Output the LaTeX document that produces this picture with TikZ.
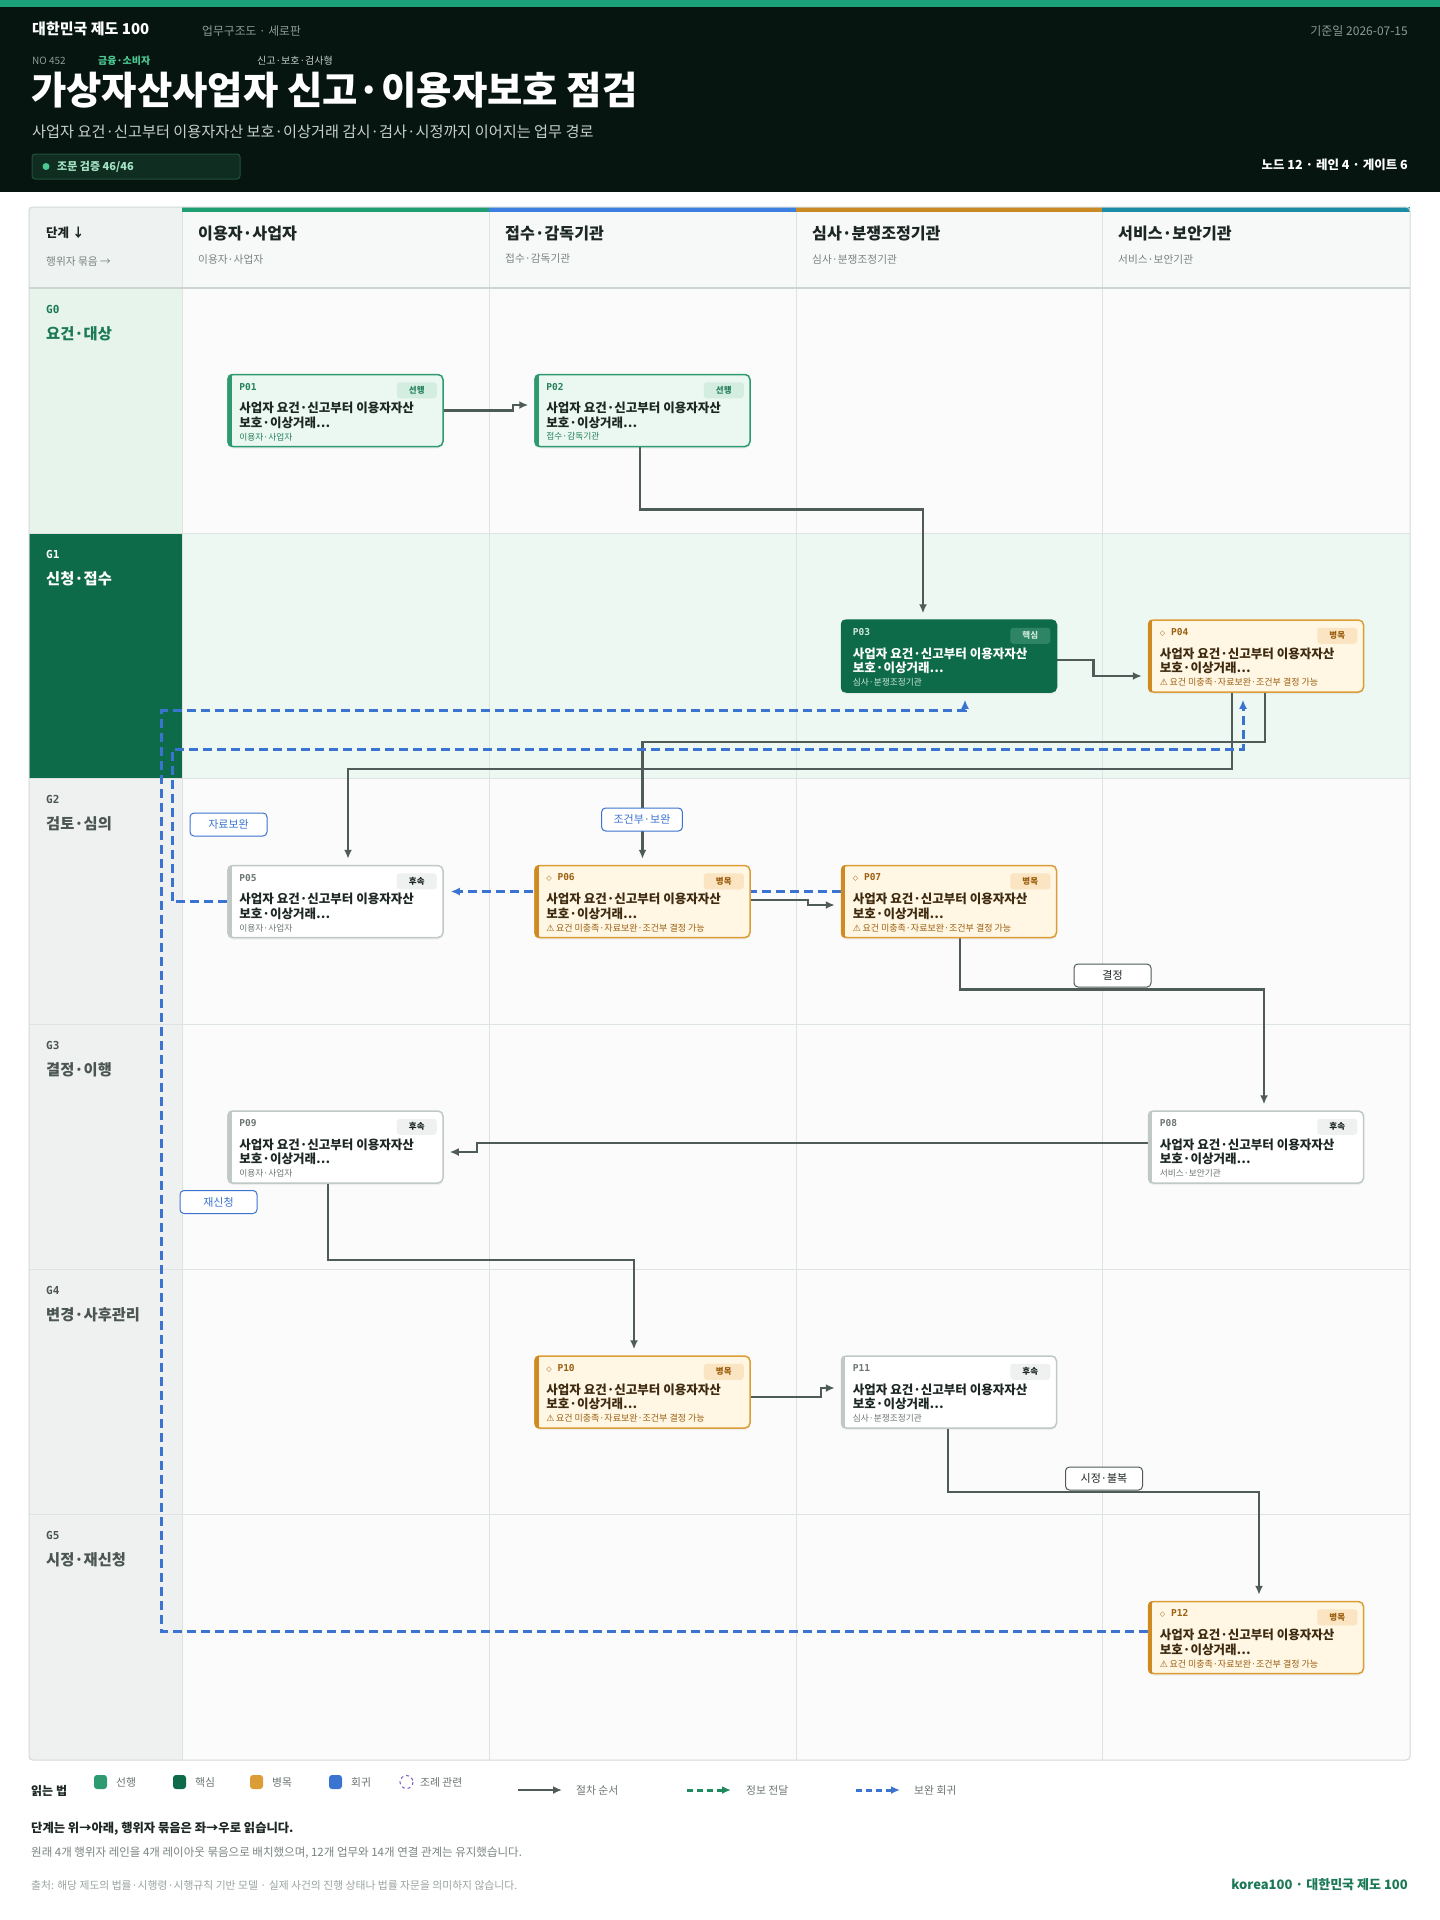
\documentclass[tikz,border=0pt]{standalone}
\usepackage{fontspec}
\setmainfont{Noto Sans CJK KR}
\newfontfamily\monofont{DejaVu Sans Mono}
\newfontfamily\symfont{DejaVu Sans}
\usetikzlibrary{arrows.meta}
\usetikzlibrary{shadows}
\pgfdeclarelayer{gridlayer}
\pgfdeclarelayer{edgelayer}
\pgfdeclarelayer{nodelayer}
\pgfsetlayers{gridlayer,edgelayer,nodelayer,main}

\definecolor{ink}{HTML}{1C2723}
\definecolor{headbg}{HTML}{06150F}
\definecolor{topmint}{HTML}{1BA27A}
\definecolor{headgray}{HTML}{8E9A96}
\definecolor{headpale}{HTML}{C6D0CC}
\definecolor{fieldgreen}{HTML}{4CC893}
\definecolor{badgebg}{HTML}{0F2D21}
\definecolor{badgeline}{HTML}{24503E}
\definecolor{badgetext}{HTML}{A6E4C6}
\definecolor{leadgreen}{HTML}{2E9A70}
\definecolor{leadfill}{HTML}{EBF7F1}
\definecolor{leadid}{HTML}{23805C}
\definecolor{leadtag}{HTML}{D4EDE1}
\definecolor{coregreen}{HTML}{0E6B49}
\definecolor{corepale}{HTML}{CFE8DC}
\definecolor{coretag}{HTML}{2E8565}
\definecolor{neckline}{HTML}{DC9C36}
\definecolor{neckstrip}{HTML}{CF8A22}
\definecolor{neckfill}{HTML}{FFF6E4}
\definecolor{necktag}{HTML}{FBE4C1}
\definecolor{neckbrown}{HTML}{9A5E0E}
\definecolor{neckink}{HTML}{3E2A0F}
\definecolor{followline}{HTML}{C0C9C6}
\definecolor{followtag}{HTML}{EEF1F0}
\definecolor{mutedtext}{HTML}{6B7572}
\definecolor{flowgray}{HTML}{4F5B58}
\definecolor{backblue}{HTML}{3B74D0}
\definecolor{gridline}{HTML}{DDE3E0}
\definecolor{headline}{HTML}{CDD5D2}
\definecolor{frameline}{HTML}{D3DAD7}
\definecolor{headrow}{HTML}{F7F9F8}
\definecolor{cornercell}{HTML}{EEF2F0}
\definecolor{cellwhite}{HTML}{FAFBFA}
\definecolor{cellmint}{HTML}{EEF8F2}
\definecolor{sidemint}{HTML}{E6F4EC}
\definecolor{sidegray}{HTML}{EEF1F0}
\definecolor{gidgreen}{HTML}{1B7A55}
\definecolor{gidgray}{HTML}{4B5653}
\definecolor{lanegreen}{HTML}{1F9E72}
\definecolor{laneblue}{HTML}{3D7FE0}
\definecolor{laneamber}{HTML}{C98A26}
\definecolor{laneteal}{HTML}{1B8CA5}
\definecolor{lawpurple}{HTML}{7B5CC4}
\definecolor{infogreen}{HTML}{1F8A5E}
\definecolor{footgray}{HTML}{7A8481}
\definecolor{srcgray}{HTML}{9AA4A1}

\newcommand{\sz}[2]{\fontsize{#1}{#2}\selectfont}
\newcommand{\steptitle}{사업자 요건·신고부터 이용자자산\\보호·이상거래…}
\newcommand{\warnline}{{\symfont ⚠}\,요건 미충족·자료보완·조건부 결정 가능}
\newcommand{\neckmark}{{\symfont\sz{7}{8}◇}\ }

\tikzstyle{plain_text}=[inner sep=0pt, anchor=west]
\tikzstyle{proc_box}=[rectangle, rounded corners=5pt, minimum width=215pt, minimum height=72pt, line width=1.5pt, inner sep=0pt, drop shadow={shadow xshift=0pt, shadow yshift=-2pt, opacity=0.10}]
\tikzstyle{tag_base}=[rectangle, rounded corners=3pt, inner sep=0pt, minimum width=40pt, minimum height=16pt, font=\bfseries\sz{8.5}{10}]
\tikzstyle{id_base}=[plain_text, font=\monofont\bfseries\sz{9.5}{11}]
\tikzstyle{title_base}=[plain_text, align=left, font=\bfseries\sz{12.5}{14.5}]
\tikzstyle{foot_base}=[plain_text, font=\sz{8.7}{10}]
% 선행
\tikzstyle{lead_box}=[proc_box, draw=leadgreen, fill=leadfill]
\tikzstyle{lead_strip}=[fill=leadgreen]
\tikzstyle{lead_id}=[id_base, text=leadid]
\tikzstyle{lead_tag}=[tag_base, fill=leadtag, text=leadid]
\tikzstyle{lead_title}=[title_base, text=ink]
\tikzstyle{lead_foot}=[foot_base, text=leadid]
% 핵심
\tikzstyle{core_box}=[proc_box, draw=coregreen, fill=coregreen]
\tikzstyle{core_strip}=[fill=coregreen]
\tikzstyle{core_id}=[id_base, text=corepale]
\tikzstyle{core_tag}=[tag_base, fill=coretag, text=corepale]
\tikzstyle{core_title}=[title_base, text=white]
\tikzstyle{core_foot}=[foot_base, text=corepale]
% 병목
\tikzstyle{neck_box}=[proc_box, draw=neckline, fill=neckfill]
\tikzstyle{neck_strip}=[fill=neckstrip]
\tikzstyle{neck_id}=[id_base, text=neckbrown]
\tikzstyle{neck_tag}=[tag_base, fill=necktag, text=neckbrown]
\tikzstyle{neck_title}=[title_base, text=neckink]
\tikzstyle{neck_foot}=[foot_base, font=\sz{9}{10}, text=neckbrown]
% 후속
\tikzstyle{follow_box}=[proc_box, draw=followline, fill=white]
\tikzstyle{follow_strip}=[fill=followline]
\tikzstyle{follow_id}=[id_base, text=mutedtext]
\tikzstyle{follow_tag}=[tag_base, fill=followtag, text=ink]
\tikzstyle{follow_title}=[title_base, text=ink]
\tikzstyle{follow_foot}=[foot_base, text=mutedtext]
% connectors
\tikzstyle{flow}=[-{Latex[length=9pt,width=8pt]}, draw=flowgray, line width=2.5pt, shorten >=6pt]
\tikzstyle{back_flow}=[-{Latex[length=9pt,width=8pt]}, draw=backblue, line width=3pt, dash pattern=on 9pt off 5pt, shorten >=7pt]
\tikzstyle{gate_tag}=[rectangle, rounded corners=4pt, draw=flowgray, line width=1pt, fill=white, text=ink, minimum width=77pt, minimum height=23pt, inner xsep=12pt, font=\sz{11}{13}]
\tikzstyle{back_tag}=[gate_tag, draw=backblue, text=backblue]
\tikzstyle{row_id}=[plain_text, font=\monofont\bfseries\sz{11}{13}]
\tikzstyle{row_name}=[plain_text, font=\bfseries\sz{15.3}{17}]
\tikzstyle{lane_title}=[plain_text, font=\bfseries\sz{16.1}{18}, text=ink]
\tikzstyle{lane_sub}=[plain_text, font=\sz{10.7}{12}, text=footgray]
\tikzstyle{legend_text}=[plain_text, font=\sz{10.8}{12}, text=mutedtext]

\newcommand{\procnode}[6]{%
  \node [style=#3_box] (#1) at #2 {};
  \begin{scope}
    \clip [rounded corners=5pt] (#1.north west) rectangle (#1.south east);
    \fill [style=#3_strip] (#1.north west) rectangle ([xshift=4.5pt]#1.south west);
  \end{scope}
  \node [style=#3_id] (#1-id) at ([xshift=12pt,yshift=-13pt]#1.north west) {#4};
  \node [style=#3_tag] (#1-tag) at ([xshift=-27pt,yshift=-16.5pt]#1.north east) {#5};
  \node [style=#3_title] (#1-title) at ([xshift=12pt,yshift=-41.5pt]#1.north west) {\steptitle};
  \node [style=#3_foot] (#1-foot) at ([xshift=12pt,yshift=-63pt]#1.north west) {#6};
}

\begin{document}
\begin{tikzpicture}[x=1pt, y=-1pt]
	\useasboundingbox (0,0) rectangle (1440,1920);
	\begin{pgfonlayer}{gridlayer}
		\fill [white] (0,0) rectangle (1440,1920);
		\fill [headbg] (0,0) rectangle (1440,192);
		\fill [topmint] (0,0) rectangle (1440,7);
		\fill [headrow] (29,207) rectangle (1410,288);
		\fill [cornercell] (29,207) rectangle (182,288);
		\foreach \i/\cellfill/\sidefill in {0/cellwhite/sidemint, 1/cellmint/coregreen, 2/cellwhite/sidegray, 3/cellwhite/sidegray, 4/cellwhite/sidegray, 5/cellwhite/sidegray}{
			\pgfmathsetmacro{\rowtop}{288+245.33*\i}
			\fill [\cellfill] (182,\rowtop) rectangle (1410,\rowtop+245.33);
			\fill [\sidefill] (29,\rowtop) rectangle (182,\rowtop+245.33);
			\draw [gridline, line width=1pt] (29,\rowtop) -- (1410,\rowtop);
		}
		\foreach \x in {182,489,796,1102}
			\draw [gridline, line width=1pt] (\x,207) -- (\x,1760);
		\foreach \x/\w/\c in {182/307/lanegreen, 489/307/laneblue, 796/306/laneamber, 1102/308/laneteal}
			\fill [\c] (\x,207) rectangle ++(\w,5);
		\draw [headline, line width=1.5pt] (29,288) -- (1410,288);
		\draw [frameline, line width=1pt, rounded corners=4pt] (29,207) rectangle (1410,1760);
	\end{pgfonlayer}

	% header
	\node [style=plain_text, text=white, font=\bfseries\sz{15}{18}] (brand) at (32,29) {대한민국 제도 100};
	\node [style=plain_text, text=headgray, font=\sz{11.8}{13}] (edition) at (202,31) {업무구조도 · 세로판};
	\node [style=plain_text, anchor=east, text=headgray, font=\sz{12}{13}] (basedate) at (1408,31) {기준일 2026-07-15};
	\node [style=plain_text, text=headgray, font=\sz{10}{12}] (docno) at (32,61) {NO 452};
	\node [style=plain_text, text=fieldgreen, font=\bfseries\sz{10}{12}] (field) at (98,61) {금융·소비자};
	\node [style=plain_text, text=headpale, font=\sz{10}{12}] (kind) at (257,61) {신고·보호·검사형};
	\node [style=plain_text, text=white, font=\bfseries\sz{38.4}{42}] (title) at (31,90) {가상자산사업자 신고·이용자보호 점검};
	\node [style=plain_text, text=headpale, font=\sz{15.2}{17}] (subtitle) at (32,132) {사업자 요건·신고부터 이용자자산 보호·이상거래 감시·검사·시정까지 이어지는 업무 경로};
	\draw [badgeline, fill=badgebg, rounded corners=3pt, line width=1pt] (32,154) rectangle (240,179);
	\fill [fieldgreen] (46,166.5) circle (3.5);
	\node [style=plain_text, text=badgetext, font=\bfseries\sz{11}{12}] (verify) at (57,166.5) {조문 검증 46/46};
	\node [style=plain_text, anchor=east, text=white, font=\bfseries\sz{12.5}{15}] (counts) at (1408,165) {노드 12 · 레인 4 · 게이트 6};

	% lane and stage headings
	\node [style=plain_text, text=ink, font=\bfseries\sz{12.5}{15}] (stagehead) at (46,233) {단계 ↓};
	\node [style=plain_text, text=footgray, font=\sz{10.7}{12}] (actorhead) at (46,261) {행위자 묶음 →};
	\foreach \x/\lname [count=\j] in {182/이용자·사업자, 489/접수·감독기관, 796/심사·분쟁조정기관, 1102/서비스·보안기관}{
		\node [style=lane_title] (lane\j) at (\x+16,233) {\lname};
		\node [style=lane_sub] (lanesub\j) at (\x+16,259) {\lname};
	}
	\foreach \i/\labcol/\gid/\gname in {0/gidgreen/G0/요건·대상, 1/white/G1/신청·접수, 2/gidgray/G2/검토·심의, 3/gidgray/G3/결정·이행, 4/gidgray/G4/변경·사후관리, 5/gidgray/G5/시정·재신청}{
		\pgfmathsetmacro{\rowtop}{288+245.33*\i}
		\node [style=row_id, text=\labcol] (g\i) at (46,\rowtop+21) {\gid};
		\node [style=row_name, text=\labcol] (gn\i) at (46,\rowtop+45.5) {\gname};
	}

	\begin{pgfonlayer}{nodelayer}
		\procnode{1}{(335.5,410.5)}{lead}{P01}{선행}{이용자·사업자}
		\procnode{2}{(642.5,410.5)}{lead}{P02}{선행}{접수·감독기관}
		\procnode{3}{(949,656)}{core}{P03}{핵심}{심사·분쟁조정기관}
		\procnode{4}{(1256,656)}{neck}{\neckmark P04}{병목}{\warnline}
		\procnode{5}{(335.5,901.5)}{follow}{P05}{후속}{이용자·사업자}
		\procnode{6}{(642.5,901.5)}{neck}{\neckmark P06}{병목}{\warnline}
		\procnode{7}{(949,901.5)}{neck}{\neckmark P07}{병목}{\warnline}
		\procnode{8}{(1256,1147)}{follow}{P08}{후속}{서비스·보안기관}
		\procnode{9}{(335.5,1147)}{follow}{P09}{후속}{이용자·사업자}
		\procnode{10}{(642.5,1392)}{neck}{\neckmark P10}{병목}{\warnline}
		\procnode{11}{(949,1392)}{follow}{P11}{후속}{심사·분쟁조정기관}
		\procnode{12}{(1256,1637.5)}{neck}{\neckmark P12}{병목}{\warnline}
		\node [style=back_tag] (t1) at (228.5,824.5) {자료보완};
		\node [style=back_tag] (t2) at (642,819.5) {조건부·보완};
		\node [style=gate_tag] (t3) at (1112.5,975.5) {결정};
		\node [style=back_tag] (t4) at (218.5,1202) {재신청};
		\node [style=gate_tag] (t5) at (1104,1478.5) {시정·불복};
	\end{pgfonlayer}

	\begin{pgfonlayer}{edgelayer}
		\draw [style=flow] (1.east) -- ++(69,0) |- ([yshift=5.5pt]2.west);
		\draw [style=flow] ([xshift=-2.5pt]2.south) -- ++(0,62) -| ([xshift=-26pt]3.north);
		\draw [style=flow] ([yshift=-4pt]3.east) -- ++(36,0) |- ([yshift=-20pt]4.west);
		\draw [style=flow] ([xshift=9pt]4.south) -- ++(0,49) -| (6.north);
		\draw [style=flow] ([xshift=-24pt]4.south) -- ++(0,76) -| ([xshift=12.5pt]5.north);
		\draw [style=flow] ([yshift=1.5pt]6.east) -- ++(57,0) |- ([yshift=-3.5pt]7.west);
		\draw [style=flow] ([xshift=11pt]7.south) -- ++(0,51) -| ([xshift=8pt]8.north);
		\draw [style=flow] ([yshift=4pt]8.west) -- ++(-671,0) |- ([yshift=-5pt]9.east);
		\draw [style=flow] ([xshift=-7.5pt]9.south) -- ++(0,76) -| ([xshift=-8.5pt]10.north);
		\draw [style=flow] ([yshift=-5pt]10.east) -- ++(70,0) |- ([yshift=4pt]11.west);
		\draw [style=flow] ([xshift=-1pt]11.south) -- ++(0,63) -| ([xshift=3pt]12.north);
		\draw [style=back_flow] ([yshift=10pt]7.west) -- ([yshift=10pt]5.east);
		\draw [style=back_flow] (5.west) -- ++(-55,0) -- ++(0,-152) -| ([xshift=-13pt]4.south);
		\draw [style=back_flow] ([yshift=6pt]12.west) -- ++(-986,0) -- ++(0,-921) -| ([xshift=16pt]3.south);
	\end{pgfonlayer}

	% legend
	\node [style=plain_text, text=ink, font=\bfseries\sz{12}{14}] (legend) at (31,1791) {읽는 법};
	\foreach \x/\c/\t [count=\k] in {94/leadgreen/선행, 173/coregreen/핵심, 250/neckline/병목, 329/backblue/회귀}{
		\fill [\c, rounded corners=3pt] (\x,1775) rectangle ++(13,14);
		\node [style=legend_text] (key\k) at (\x+22,1782) {\t};
	}
	\draw [lawpurple, dashed, line width=1pt] (406.5,1782) circle (6.5);
	\node [style=legend_text] (key5) at (420,1782) {조례 관련};
	\coordinate (k6a) at (518,1790);
	\coordinate (k6b) at (562,1790);
	\draw [style=flow, shorten >=0pt] (k6a) -- (k6b);
	\node [style=legend_text] (key6) at (576,1790) {절차 순서};
	\coordinate (k7a) at (687,1790);
	\coordinate (k7b) at (731,1790);
	\draw [style=back_flow, draw=infogreen, dash pattern=on 6pt off 4pt, shorten >=0pt] (k7a) -- (k7b);
	\node [style=legend_text] (key7) at (746,1790) {정보 전달};
	\coordinate (k8a) at (856,1790);
	\coordinate (k8b) at (900,1790);
	\draw [style=back_flow, dash pattern=on 6pt off 4pt, shorten >=0pt] (k8a) -- (k8b);
	\node [style=legend_text] (key8) at (914,1790) {보완 회귀};

	% footer
	\node [style=plain_text, text=ink, font=\bfseries\sz{12.3}{14}] (readnote) at (31,1829) {단계는 위→아래, 행위자 묶음은 좌→우로 읽습니다.};
	\node [style=plain_text, text=footgray, font=\sz{11.5}{13}] (layoutnote) at (31,1853) {원래 4개 행위자 레인을 4개 레이아웃 묶음으로 배치했으며, 12개 업무와 14개 연결 관계는 유지했습니다.};
	\node [style=plain_text, text=srcgray, font=\sz{10.8}{12}] (source) at (31,1885) {출처: 해당 제도의 법률·시행령·시행규칙 기반 모델 · 실제 사건의 진행 상태나 법률 자문을 의미하지 않습니다.};
	\node [style=plain_text, anchor=east, text=gidgreen, font=\bfseries\sz{13}{15}] (credit) at (1408,1885) {korea100 · 대한민국 제도 100};
\end{tikzpicture}
\end{document}
